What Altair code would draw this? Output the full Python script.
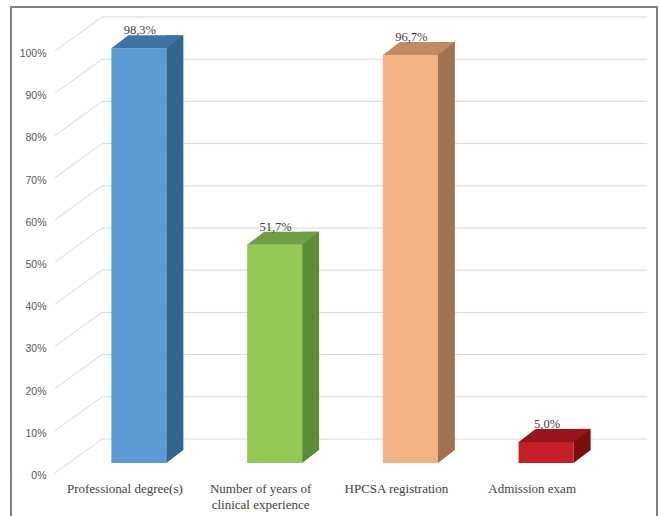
import altair as alt
import pandas as pd

# ---- data ----
categories = ["Professional degree(s)", "Number of years of clinical experience",
              "HPCSA registration", "Admission exam"]
values = [98.3, 51.7, 96.7, 5.0]
front_colors = ["#5B9BD5", "#92C853", "#F4B183", "#C52027"]
side_colors = ["#32668F", "#5E8B37", "#A07252", "#7C0E10"]
top_colors = ["#3E74A6", "#6F9E46", "#C08A63", "#98161A"]
tick_values = [0, 10, 20, 30, 40, 50, 60, 70, 80, 90, 100]

df = pd.DataFrame({
    "cat": categories,
    "value": values,
    "label": [f"{v:.1f}%".replace(".", ",") for v in values],
    "base": [0] * len(values),
    "c_front": front_colors,
    "c_side": side_colors,
    "c_top": top_colors,
})
ticks = pd.DataFrame({"t": tick_values})

W, H = 543, 422
BAR_W = 55
DX, DY = 17, 13

xsc = alt.Scale(domain=categories, paddingInner=0, paddingOuter=0)
ysc = alt.Scale(domain=[0, 100], nice=False)

x_axis = alt.Axis(labelAngle=0, domain=False, ticks=False, labelPadding=19, labelOffset=-14,
                  labelFont="Liberation Serif", labelFontSize=13,
                  labelColor="#404040", labelLineHeight=16, labelLimit=200, title=None,
                  labelExpr="datum.label == 'Number of years of clinical experience' ? ['Number of years of', 'clinical experience'] : datum.label")
y_axis = alt.Axis(values=tick_values, labelExpr="datum.value + '%'", domain=False,
                  ticks=False, grid=False, labelPadding=25, labelOffset=12.5,
                  labelFont="Liberation Sans", labelFontSize=10.5,
                  labelColor="#595959", title=None)

def X():
    return alt.X("cat:N", scale=xsc, sort=categories, axis=x_axis)

def Y(f):
    return alt.Y(f, scale=ysc, axis=y_axis)

# frame
frame_left = alt.Chart(ticks).mark_rule(color="#7f7f7f", strokeWidth=2).encode(
    x=alt.value(-60), y=alt.value(-34), y2=alt.value(480))
frame_top = alt.Chart(ticks).mark_rule(color="#7f7f7f", strokeWidth=2).encode(
    x=alt.value(-61), x2=alt.value(587), y=alt.value(-34))
frame_right = alt.Chart(ticks).mark_rule(color="#7f7f7f", strokeWidth=2).encode(
    x=alt.value(586), y=alt.value(-34), y2=alt.value(480))

# back wall grid
grid = alt.Chart(ticks).mark_rule(color="#d9d9d9", strokeWidth=1, yOffset=-24, y2Offset=-24).encode(
    x=alt.value(31), x2=alt.value(576), y=Y("t:Q"), y2="t:Q")
diag = alt.Chart(ticks).mark_rule(color="#d9d9d9", strokeWidth=1, yOffset=10, y2Offset=-24).encode(
    x=alt.value(-16), x2=alt.value(31), y=Y("t:Q"), y2="t:Q")

front = alt.Chart(df).mark_bar(width=BAR_W).encode(
    x=X(), y=Y("value:Q"), y2="base:Q",
    color=alt.Color("c_front:N", scale=None),
)

side = alt.Chart(df).mark_bar(width=DX, xOffset=BAR_W / 2 + DX / 2, yOffset=-DY, y2Offset=-DY).encode(
    x=X(), y=Y("value:Q"), y2="base:Q",
    color=alt.Color("c_side:N", scale=None))

S = 50.0
def p(v):
    return f"{v / S:.4f}"
hw = BAR_W / 2
tri_path = f"M {p(hw)} {p(-DY)} L {p(hw + DX)} {p(-DY)} L {p(hw)} 0 Z"
top_path = f"M {p(-hw)} 0 L {p(hw)} 0 L {p(hw + DX)} {p(-DY)} L {p(-hw + DX)} {p(-DY)} Z"

side_tri = alt.Chart(df).mark_point(shape=tri_path, size=S * S * 4, filled=True, opacity=1, strokeWidth=0).encode(
    x=X(), y=Y("base:Q"), color=alt.Color("c_side:N", scale=None))

top = alt.Chart(df).mark_point(shape=top_path, size=S * S * 4, filled=True, opacity=1, strokeWidth=0).encode(
    x=X(), y=Y("value:Q"), color=alt.Color("c_top:N", scale=None))

text = alt.Chart(df).mark_text(font="Liberation Serif", fontSize=12.5, color="#404040",
                               baseline="alphabetic", dy=-14, dx=1).encode(
    x=X(), y=Y("value:Q"), text="label:N")

chart = alt.layer(grid, diag, front, side, side_tri, top, text,
                  frame_left, frame_top, frame_right).properties(
    width=W, height=H,
    autosize=alt.AutoSizeParams(type="none"),
    padding={"left": 71, "top": 41, "right": 45, "bottom": 53},
    background="white",
).configure_view(stroke=None)

chart.save("out.html", embed_options={"renderer": "svg", "actions": False})
